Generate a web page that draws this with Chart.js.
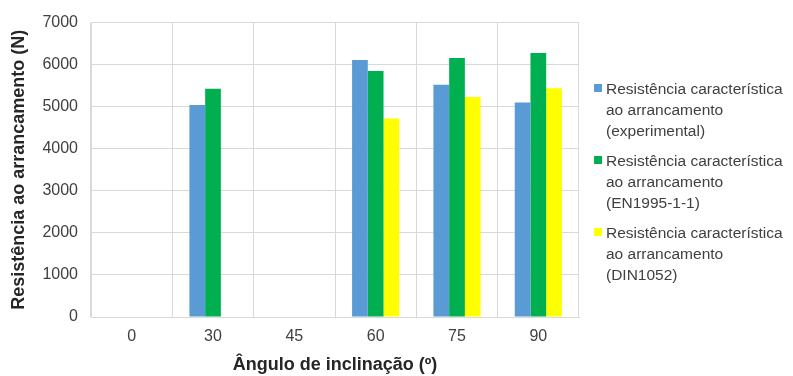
<!DOCTYPE html>
<html>
<head>
<meta charset="utf-8">
<script src="https://cdn.jsdelivr.net/npm/chart.js@4"></script>
<style>
  html, body { margin: 0; padding: 0; background: #fff; }
  #wrap { position: relative; width: 793px; height: 376px; }
  #legend { position: absolute; left: 594px; top: 0; font-family: "Liberation Sans", Arial, sans-serif; font-size: 15.5px; line-height: 21px; color: #404040; }
  .item { position: absolute; left: 0; width: 199px; }
  .box { position: absolute; left: 0; top: 6.5px; width: 8px; height: 8px; }
  .txt { position: absolute; left: 12px; top: 0; white-space: nowrap; }
</style>
</head>
<body>
<div id="wrap">
  <canvas id="chart" width="793" height="376"></canvas>
  <div id="legend"></div>
</div>
<script>
// Data
const categories = ['0', '30', '45', '60', '75', '90'];
const experimental = [null, 5040, null, 6110, 5520, 5100];
const en1995 = [null, 5430, null, 5850, 6160, 6280];
const din1052 = [null, null, null, 4720, 5230, 5440];
const yTicks = [0, 1000, 2000, 3000, 4000, 5000, 6000, 7000];

const seriesNames = [
    ['Resistência característica', 'ao arrancamento', '(experimental)'],
    ['Resistência característica', 'ao arrancamento', '(EN1995-1-1)'],
    ['Resistência característica', 'ao arrancamento', '(DIN1052)']
];
const seriesColors = ['#5B9BD5', '#00B050', '#FFFF00'];
const seriesData = [experimental, en1995, din1052];

const font = "'Liberation Sans', Arial, sans-serif";

const ctx = document.getElementById('chart').getContext('2d');
const chart = new Chart(ctx, {
    type: 'bar',
    data: {
        labels: categories,
        datasets: seriesData.map((d, i) => ({
            label: seriesNames[i].join(' '),
            data: d,
            backgroundColor: seriesColors[i],
            borderWidth: 0,
            categoryPercentage: 0.58,
            barPercentage: 1.0
        }))
    },
    options: {
        responsive: false,
        animation: false,
        layout: { padding: { left: 0, top: 19, right: 214, bottom: 0 } },
        plugins: {
            legend: { display: false },
            tooltip: { enabled: false }
        },
        scales: {
            x: {
                grid: { color: '#D9D9D9', drawTicks: false, offset: true },
                border: { color: '#D9D9D9' },
                ticks: { color: '#404040', font: { family: font, size: 16 }, padding: 10 },
                title: {
                    display: true,
                    text: 'Ângulo de inclinação (º)',
                    color: '#262626',
                    font: { family: font, size: 18, weight: 'bold' },
                    padding: 0
                },
                afterFit: s => { s.height = 59; }
            },
            y: {
                min: 0,
                max: 7000,
                grid: { color: '#D9D9D9', drawTicks: false },
                border: { color: '#D9D9D9' },
                afterBuildTicks: s => { s.ticks = yTicks.map(v => ({ value: v })); },
                ticks: {
                    color: '#404040',
                    font: { family: font, size: 16 },
                    padding: 13,
                    callback: v => String(v)
                },
                title: {
                    display: true,
                    text: 'Resistência ao arrancamento (N)',
                    color: '#262626',
                    font: { family: font, size: 18, weight: 'bold' },
                    padding: { top: 8, bottom: 0 }
                },
                afterFit: s => { s.width = 91; }
            }
        }
    }
});

// HTML legend
const legend = document.getElementById('legend');
const entryTops = [77.5, 149.5, 221.5];
seriesNames.forEach((lines, i) => {
    const item = document.createElement('div');
    item.className = 'item';
    item.style.top = entryTops[i] + 'px';
    const box = document.createElement('div');
    box.className = 'box';
    box.style.background = seriesColors[i];
    const txt = document.createElement('div');
    txt.className = 'txt';
    txt.innerHTML = lines.join('<br>');
    item.appendChild(box);
    item.appendChild(txt);
    legend.appendChild(item);
});
</script>
</body>
</html>
